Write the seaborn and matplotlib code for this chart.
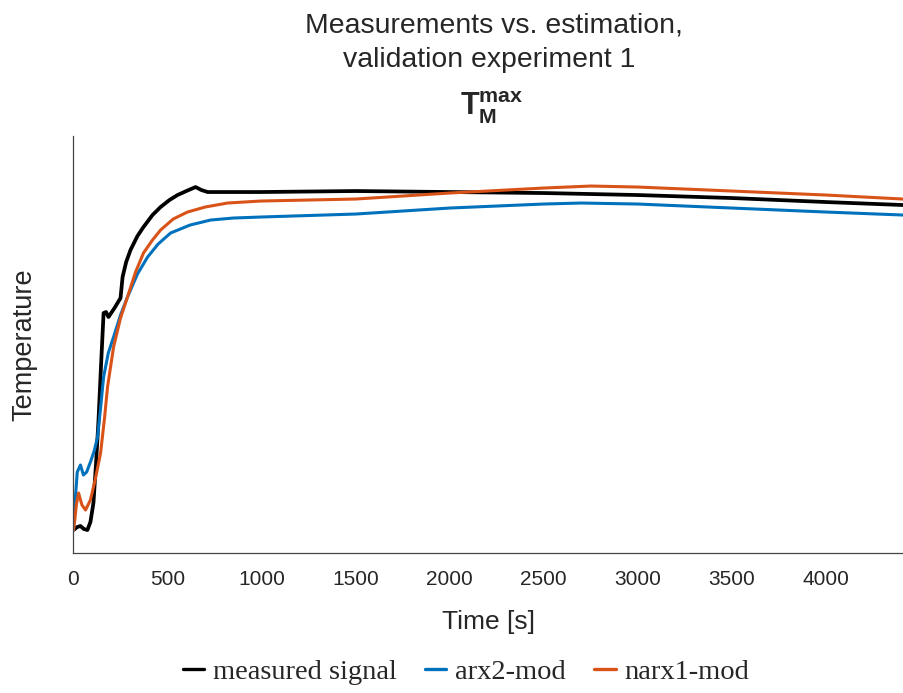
import numpy as np
import pandas as pd
import matplotlib
matplotlib.use("Agg")
import matplotlib.pyplot as plt
import seaborn as sns

# --- data (time in s, temperature in arbitrary units) ---
t_meas = [0, 20, 37, 55, 74, 90, 106, 120, 133, 147, 160, 173, 186, 218, 250, 261, 280, 303, 340, 372, 420, 463,
          510, 553, 600, 649, 680, 713, 850, 995, 1500, 2000, 2500, 3000, 3500, 4000, 4410]
T_meas = [21.8, 22.1, 22.2, 21.9, 21.8, 22.6, 24.5, 28.5, 32.8, 38.5, 43.5, 43.6, 43.1, 44.0, 45.0, 47.1, 48.6, 49.8, 51.2, 52.1, 53.3, 54.1,
          54.8, 55.3, 55.7, 56.1, 55.8, 55.6, 55.6, 55.6, 55.7, 55.6, 55.5, 55.3, 55.0, 54.6, 54.3]

t_arx = [0, 10, 20, 37, 53, 70, 90, 110, 128, 145, 160, 185, 213, 250, 287, 340, 394, 450,
         516, 620, 729, 850, 995, 1500, 2000, 2500, 2700, 3000, 3500, 4000, 4410]
T_arx = [21.8, 25.0, 27.6, 28.3, 27.3, 27.6, 28.6, 29.7, 31.1, 34.2, 37.1, 39.5, 41.1, 43.3, 45.1, 47.4, 49.1, 50.4,
         51.5, 52.3, 52.8, 53.0, 53.1, 53.4, 54.0, 54.4, 54.5, 54.4, 54.0, 53.6, 53.3]

t_narx = [0, 8, 15, 27, 45, 64, 90, 115, 144, 165, 181, 213, 250, 287, 330, 372, 420, 463,
          530, 606, 700, 819, 995, 1500, 2000, 2500, 2750, 3000, 3500, 4000, 4410]
T_narx = [21.8, 23.0, 24.3, 25.5, 24.3, 23.8, 24.8, 26.8, 29.5, 33.0, 36.1, 40.1, 43.0, 45.1, 47.6, 49.5, 50.8, 51.8,
          52.9, 53.6, 54.1, 54.5, 54.7, 54.9, 55.5, 56.0, 56.2, 56.1, 55.7, 55.3, 54.9]

series_names = ["measured signal", "arx2-mod", "narx1-mod"]
series_colors = ["#000000", "#0072BD", "#D95319"]
x_ticks = [0, 500, 1000, 1500, 2000, 2500, 3000, 3500, 4000]

df = pd.concat([
    pd.DataFrame({"Time": t_meas, "Temp": T_meas, "series": series_names[0]}),
    pd.DataFrame({"Time": t_arx, "Temp": T_arx, "series": series_names[1]}),
    pd.DataFrame({"Time": t_narx, "Temp": T_narx, "series": series_names[2]}),
], ignore_index=True)

sns.set_style("white")
plt.rcParams['font.family'] = ['Liberation Sans', 'DejaVu Sans']
plt.rcParams['mathtext.fontset'] = 'custom'
plt.rcParams['mathtext.rm'] = 'Liberation Sans'
plt.rcParams['mathtext.bf'] = 'Liberation Sans:bold'

fig = plt.figure(figsize=(9.04, 6.93), dpi=100)
ax = fig.add_axes([0.0813, 0.202, 0.9176, 0.6017])

for name, col, lw in zip(series_names, series_colors, [2.7, 2.2, 2.2]):
    sub = df[df["series"] == name]
    sns.lineplot(data=sub, x="Time", y="Temp", color=col, linewidth=lw,
                 label=name, ax=ax, estimator=None, sort=False)

ax.set_xlim(0, 4410)
ax.set_ylim(19.5, 61.2)
ax.set_xticks(x_ticks)
ax.set_yticks([])
ax.tick_params(axis="x", direction="in", length=6, width=0.9, labelsize=15,
               color="#444444", labelcolor="#262626", pad=12)
for s in ["top", "right"]:
    ax.spines[s].set_visible(False)
for s in ["left", "bottom"]:
    ax.spines[s].set_color("#444444")
    ax.spines[s].set_linewidth(0.9)

ax.set_xlabel("Time [s]", fontsize=19, labelpad=15, color="#262626")
ax.set_ylabel("Temperature", fontsize=19.5, color="#262626")
ax.yaxis.set_label_coords(-0.043, 0.5)

cx = 0.0813 + 0.9176 / 2
fig.text(cx + 6 / 904, 1 - 33 / 693, "Measurements vs. estimation,", ha="center", va="baseline",
         fontsize=20.4, color="#262626")
fig.text(cx + 1 / 904, 1 - 67 / 693, "validation experiment 1", ha="center", va="baseline",
         fontsize=20.4, color="#262626")
fig.text(cx + 0.004, 1 - 115 / 693, r"$\mathbf{T_M^{max}}$", ha="center", va="baseline", fontsize=22)

ax.get_legend().remove()
handles, labels = ax.get_legend_handles_labels()
leg = fig.legend(handles, labels, loc="center", bbox_to_anchor=(466 / 904, 1 - 672 / 693), ncol=3,
                 frameon=False, handlelength=0.75, handletextpad=0.3, columnspacing=1.0,
                 prop={"family": "Liberation Serif", "size": 20.5})
for line in leg.get_lines():
    line.set_linewidth(2.4)

fig.savefig("out.png", dpi=100)
